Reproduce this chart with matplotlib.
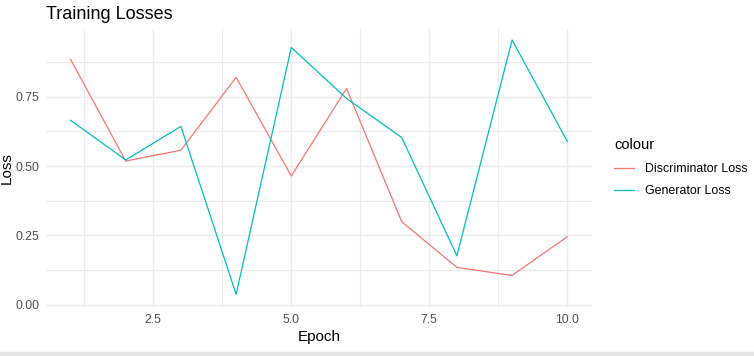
import matplotlib
matplotlib.use("Agg")
import matplotlib.pyplot as plt
from matplotlib.patches import Rectangle
from matplotlib.ticker import MultipleLocator, FormatStrFormatter

plt.rcParams["font.family"] = ["Liberation Sans", "DejaVu Sans"]

# data
epochs = [1, 2, 3, 4, 5, 6, 7, 8, 9, 10]
disc_loss = [0.885, 0.518, 0.557, 0.820, 0.464, 0.780, 0.299, 0.134, 0.105, 0.245]
gen_loss = [0.665, 0.522, 0.643, 0.037, 0.928, 0.744, 0.603, 0.176, 0.955, 0.589]
series_names = ["Discriminator Loss", "Generator Loss"]
series_colors = ["#F8766D", "#00BFC4"]

fig = plt.figure(figsize=(7.54, 3.56), dpi=100)
ax = fig.add_axes([0.0606, 0.1376, 0.7247, 0.7812])

for vals, name, col in zip([disc_loss, gen_loss], series_names, series_colors):
    ax.plot(epochs, vals, color=col, lw=0.9, label=name)

# ggplot-style expanded limits (top stays below 1.00 so no break there)
ax.set_ylim(-0.009, 0.995)
ax.set_xlim(1 - 0.45, 10 + 0.45)

ax.xaxis.set_major_locator(MultipleLocator(2.5))
ax.xaxis.set_minor_locator(MultipleLocator(1.25))
ax.yaxis.set_major_locator(MultipleLocator(0.25))
ax.yaxis.set_minor_locator(MultipleLocator(0.125))
ax.xaxis.set_major_formatter(FormatStrFormatter("%.1f"))
ax.yaxis.set_major_formatter(FormatStrFormatter("%.2f"))

ax.grid(True, which="major", color="#EBEBEB", lw=1.0)
ax.grid(True, which="minor", color="#EBEBEB", lw=0.8)
ax.set_axisbelow(True)
for s in ax.spines.values():
    s.set_visible(False)
ax.tick_params(which="both", length=0, labelsize=8.8, labelcolor="#4D4D4D")
ax.tick_params(axis="x", pad=5)
ax.tick_params(axis="y", pad=4.5)

ax.set_xlabel("Epoch", fontsize=11, labelpad=3)
ax.set_ylabel("Loss", fontsize=11, labelpad=1.5)
ax.set_title("Training Losses", loc="left", fontsize=13, pad=7)

leg = ax.legend(loc="center left", bbox_to_anchor=(1.02, 0.5), frameon=False,
                title="colour", fontsize=8.9, title_fontsize=10.5,
                handlelength=1.6, handletextpad=0.9, labelspacing=0.85,
                alignment="left")

# thin gray strip along the bottom edge
fig.patches.append(Rectangle((0, 0), 1, 0.011, transform=fig.transFigure,
                             color="#E6E6E6", zorder=0))

fig.savefig("out.png", dpi=100)
